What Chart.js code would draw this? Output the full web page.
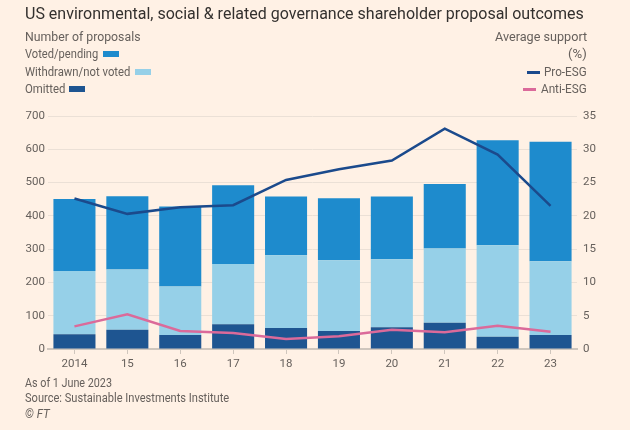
<!DOCTYPE html>
<html>
<head>
<meta charset="utf-8">
<script src="https://cdn.jsdelivr.net/npm/chart.js@4"></script>
<style>
  html, body { margin: 0; padding: 0; background: #FFF1E5; }
  body { width: 630px; height: 430px; position: relative; overflow: hidden; font-family: Roboto, "Open Sans", sans-serif; color: #66605C; }
  #chart { position: absolute; left: 0; top: 0; }
  .txt { position: absolute; white-space: nowrap; font-size: 12.5px; line-height: 14px; transform-origin: left center; }
  .title { left: 25px; top: 4px; font-size: 16.5px; line-height: 20px; color: #33302E; }
  .r { transform-origin: right center; }
  .sw { position: absolute; width: 16px; height: 6px; }
  .ln { position: absolute; width: 13px; height: 2.5px; }
</style>
</head>
<body>
<canvas id="chart" width="630" height="430"></canvas>
<div class="txt title" data-w="559">US environmental, social &amp; related governance shareholder proposal outcomes</div>
<div class="txt" style="left:25px;top:30px" data-w="115">Number of proposals</div>
<div class="txt" style="left:25px;top:47px" data-w="73">Voted/pending</div>
<div class="sw" style="left:103px;top:51px;background:#1E8BCD"></div>
<div class="txt" style="left:25px;top:65px" data-w="105">Withdrawn/not voted</div>
<div class="sw" style="left:135px;top:69px;background:#96D0E8"></div>
<div class="txt" style="left:25px;top:82px" data-w="40">Omitted</div>
<div class="sw" style="left:69px;top:86px;background:#1E5591"></div>
<div class="txt r" style="right:43px;top:30px" data-w="92">Average support</div>
<div class="txt r" style="right:43px;top:47px" data-w="19">(%)</div>
<div class="ln" style="left:527px;top:71px;background:#1B4A8C"></div>
<div class="txt r" style="right:43px;top:65px" data-w="43">Pro-ESG</div>
<div class="ln" style="left:523px;top:88px;background:#DB6A9A"></div>
<div class="txt r" style="right:43px;top:82px" data-w="46">Anti-ESG</div>
<div class="txt" style="left:25px;top:376px" data-w="87">As of 1 June 2023</div>
<div class="txt" style="left:25px;top:391px" data-w="204">Source: Sustainable Investments Institute</div>
<div class="txt" style="left:25px;top:407px;font-style:italic" data-w="25">© FT</div>
<script>
// values (number of proposals / average support %)
const years = ["2014", "15", "16", "17", "18", "19", "20", "21", "22", "23"];
const omitted = [44, 58, 42, 74, 63, 54, 65, 79, 37, 42];
const withdrawn = [190, 181, 146, 181, 219, 213, 205, 223, 275, 222];
const voted = [217, 220, 240, 237, 176, 186, 188, 194, 315, 359];
const proEsg = [22.6, 20.3, 21.3, 21.6, 25.4, 27.0, 28.3, 33.1, 29.2, 21.5];
const antiEsg = [3.4, 5.2, 2.7, 2.4, 1.5, 1.9, 2.9, 2.5, 3.5, 2.6];

// squeeze the html texts to the narrow widths of the FT typeface
document.querySelectorAll(".txt[data-w]").forEach(el => {
    el.style.transform = "scaleX(" + (el.dataset.w / el.offsetWidth) + ")";
});

const grey = "#66605C";
const tickFont = { family: "Roboto, 'Open Sans', sans-serif", size: 11.5 };

const barSet = (label, data, color) => ({
    type: "bar", label, data, backgroundColor: color, yAxisID: "y",
    order: 2, categoryPercentage: 1, barPercentage: 0.795
});
const lineSet = (label, data, color) => ({
    type: "line", label, data, borderColor: color, borderWidth: 2.5, yAxisID: "y1",
    order: 0, pointRadius: 0, tension: 0, fill: false
});

new Chart(document.getElementById("chart"), {
    data: {
        labels: years,
        datasets: [
            barSet("Omitted", omitted, "#1E5591"),
            barSet("Withdrawn/not voted", withdrawn, "#96D0E8"),
            barSet("Voted/pending", voted, "#1E8BCD"),
            lineSet("Pro-ESG", proEsg, "#1B4A8C"),
            lineSet("Anti-ESG", antiEsg, "#DB6A9A")
        ]
    },
    options: {
        responsive: false,
        animation: false,
        layout: { padding: { top: 116, left: 0, right: 0, bottom: 51 } },
        plugins: { legend: { display: false }, tooltip: { enabled: false } },
        scales: {
            x: {
                stacked: true,
                grid: { offset: false, drawOnChartArea: false, drawTicks: true, tickLength: 5, color: "#CFC6BD" },
                border: { display: true, color: "#CFC6BD", width: 2 },
                ticks: { color: grey, font: tickFont, padding: 3, maxRotation: 0 },
                afterFit: s => { s.height = 30; }
            },
            y: {
                stacked: true, min: 0, max: 700,
                ticks: { stepSize: 100, color: grey, font: tickFont, padding: 3 },
                grid: { color: "#EBE0D6", drawTicks: false },
                border: { display: false },
                afterFit: s => { s.width = 48; }
            },
            y1: {
                position: "right", min: 0, max: 35,
                ticks: { stepSize: 5, color: grey, font: tickFont, padding: 6 },
                grid: { drawOnChartArea: false, drawTicks: false },
                border: { display: false },
                afterFit: s => { s.width = 53; }
            }
        }
    }
});
</script>
</body>
</html>
